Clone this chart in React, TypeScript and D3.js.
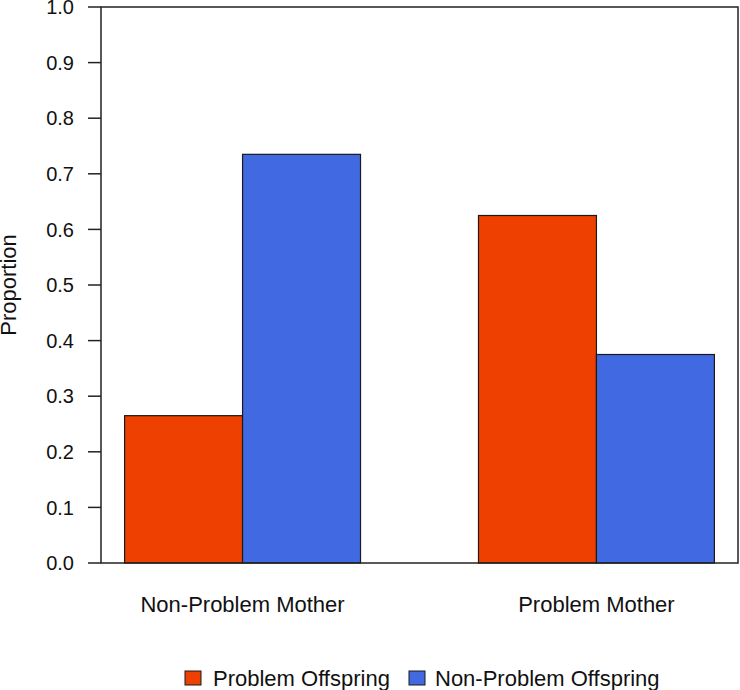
import React from "react";
import * as d3 from "d3";

const groups = ["Non-Problem Mother", "Problem Mother"];
const seriesNames = ["Problem Offspring", "Non-Problem Offspring"];
const problemOffspring = [0.265, 0.625];
const nonProblemOffspring = [0.735, 0.375];
const yTicks = [0, 0.1, 0.2, 0.3, 0.4, 0.5, 0.6, 0.7, 0.8, 0.9, 1.0];
const colors = ["#EE4000", "#4169E1"];

const W = 740;
const H = 690;
const plotL = 101, plotR = 738, plotT = 7, plotB = 563;
const FONT = "Arial, 'Liberation Sans', Helvetica, sans-serif";

export default function App() {
  const x = d3.scaleLinear().domain([0.8, 6.2]).range([plotL, plotR]);
  const y = d3.scaleLinear().domain([0, 1]).range([plotB, plotT]);
  const series = [problemOffspring, nonProblemOffspring];

  const bars: { x0: number; x1: number; v: number; c: string; key: string }[] = [];
  groups.forEach((g, gi) => {
    series.forEach((s, si) => {
      const start = 1 + gi * 3 + si;
      bars.push({ x0: start, x1: start + 1, v: s[gi], c: colors[si], key: g + si });
    });
  });

  const legendItems = [
    { sq: 185, tx: 213 },
    { sq: 409, tx: 435 },
  ];

  return (
    <svg
      width={W}
      height={H}
      style={{ position: "absolute", left: 0, top: 0, display: "block", background: "#fff" }}
      fontFamily={FONT}
    >
      <rect x={0} y={0} width={W} height={H} fill="#fff" />
      {bars.map((b) => (
        <rect
          key={b.key}
          x={x(b.x0)}
          y={y(b.v)}
          width={x(b.x1) - x(b.x0)}
          height={y(0) - y(b.v)}
          fill={b.c}
          stroke="#1a1a1a"
          strokeWidth={1.2}
        />
      ))}
      <rect
        x={plotL}
        y={plotT}
        width={plotR - plotL}
        height={plotB - plotT}
        fill="none"
        stroke="#222"
        strokeWidth={1.5}
      />
      {yTicks.map((t) => (
        <g key={t}>
          <line x1={88} x2={plotL} y1={y(t)} y2={y(t)} stroke="#222" strokeWidth={1.5} />
          <text x={74} y={y(t)} dy="0.36em" textAnchor="end" fontSize={20} fill="#111">
            {t.toFixed(1)}
          </text>
        </g>
      ))}
      <text
        transform={`translate(16,${(plotT + plotB) / 2}) rotate(-90)`}
        textAnchor="middle"
        fontSize={22}
        fill="#111"
      >
        Proportion
      </text>
      {groups.map((g, gi) => (
        <text
          key={g}
          x={x(2 + gi * 3)}
          y={612}
          textAnchor="middle"
          fontSize={22}
          fill="#111"
        >
          {g}
        </text>
      ))}
      {seriesNames.map((n, i) => (
        <g key={n}>
          <rect
            x={legendItems[i].sq}
            y={671}
            width={16}
            height={14}
            fill={colors[i]}
            stroke="#1a1a1a"
            strokeWidth={1}
          />
          <text x={legendItems[i].tx} y={686} fontSize={22} fill="#111">
            {n}
          </text>
        </g>
      ))}
    </svg>
  );
}
